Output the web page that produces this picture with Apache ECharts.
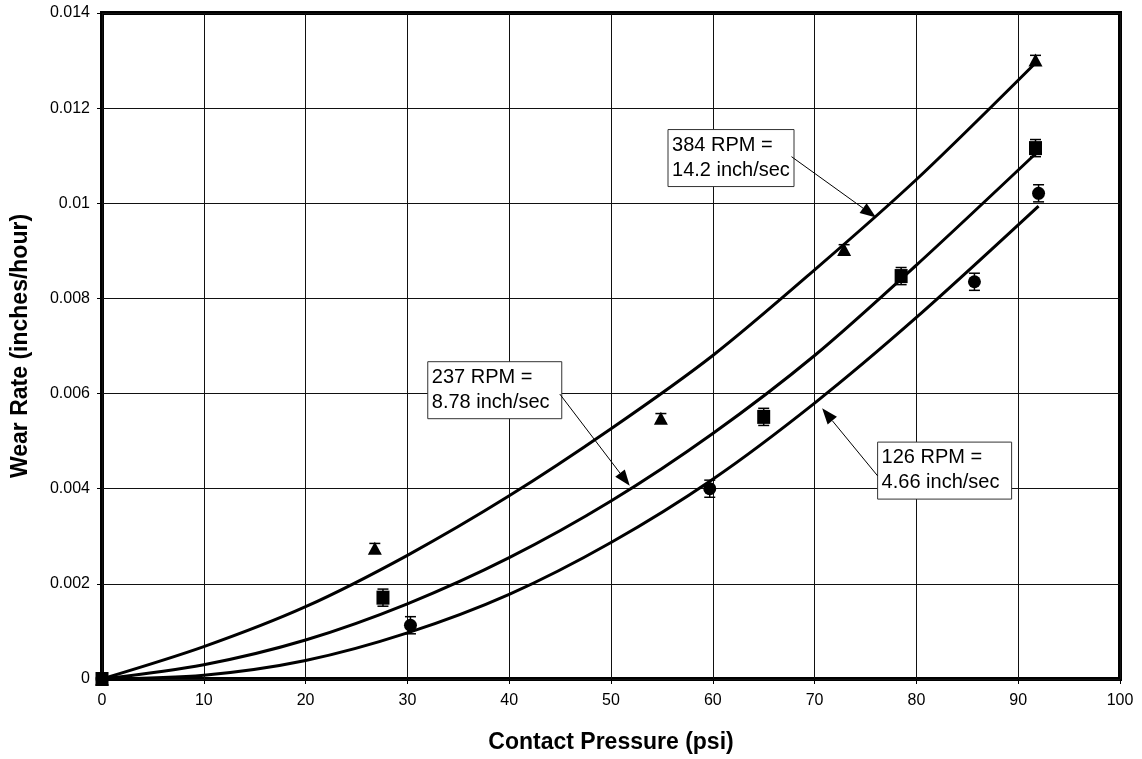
<!DOCTYPE html>
<html>
<head>
<meta charset="utf-8">
<script src="https://cdn.jsdelivr.net/npm/echarts@6/dist/echarts.min.js"></script>
<style>
html,body{margin:0;padding:0;background:#fff;}
#chart{width:1142px;height:759px;}
</style>
</head>
<body>
<div id="chart"></div>
<script>
// ---- data ----
const xTicks = [0, 10, 20, 30, 40, 50, 60, 70, 80, 90, 100];
const yTicks = [0, 0.002, 0.004, 0.006, 0.008, 0.01, 0.012, 0.014];

const rpm384X = [0, 26.8, 54.9, 72.9, 91.7];
const rpm384Y = [0, 0.00275, 0.00548, 0.00903, 0.01301];
const rpm384Err = [0, 0.0001, 0.0001, 0.0001, 0.0001];

const rpm237X = [0, 27.6, 65.0, 78.5, 91.7];
const rpm237Y = [0, 0.00171, 0.00551, 0.00847, 0.01116];
const rpm237Err = [0, 0.00018, 0.00018, 0.00018, 0.00018];

const rpm126X = [0, 30.3, 59.7, 85.7, 92.0];
const rpm126Y = [0, 0.00113, 0.0040, 0.00835, 0.01021];
const rpm126Err = [0, 0.00018, 0.00018, 0.00018, 0.00018];

// trend curves
const fit384X = [0, 10, 20, 30, 40, 50, 60, 70, 80, 91.7];
const fit384Y = [0, 0.00068, 0.00152, 0.0026, 0.00385, 0.00526, 0.0068, 0.0086, 0.0105, 0.01295];
const fit237X = [0, 10, 20, 30, 40, 50, 60, 70, 80, 91.6];
const fit237Y = [0, 0.0003, 0.00082, 0.00158, 0.00255, 0.00374, 0.00516, 0.0068, 0.0087, 0.01102];
const fit126X = [0, 10, 20, 30, 40, 50, 60, 70, 80, 92];
const fit126Y = [0, 0.00008, 0.00039, 0.00097, 0.00178, 0.00287, 0.0042, 0.0058, 0.0076, 0.00994];

const annoLabels = ['384 RPM =\n14.2 inch/sec', '237 RPM =\n8.78 inch/sec', '126 RPM =\n4.66 inch/sec'];

// ---- build ----
const zip = (xs, ys) => xs.map((x, i) => [x, ys[i]]);
const zip3 = (xs, ys, es) => xs.map((x, i) => [x, ys[i], es[i]]);

const FONT = '"Liberation Sans", Arial, sans-serif';

function errRender(params, api) {
  const x = api.value(0), y = api.value(1), e = api.value(2);
  if (!e) return null;
  const lo = api.coord([x, y - e]);
  const hi = api.coord([x, y + e]);
  const hw = 5.5;
  const st = { stroke: '#000', lineWidth: 1.5 };
  return {
    type: 'group',
    children: [
      { type: 'line', shape: { x1: lo[0], y1: lo[1], x2: hi[0], y2: hi[1] }, style: st },
      { type: 'line', shape: { x1: lo[0] - hw, y1: lo[1], x2: lo[0] + hw, y2: lo[1] }, style: st },
      { type: 'line', shape: { x1: hi[0] - hw, y1: hi[1], x2: hi[0] + hw, y2: hi[1] }, style: st }
    ]
  };
}

function curve(name, xs, ys) {
  return {
    name, type: 'line', data: zip(xs, ys), smooth: 0.3, showSymbol: false,
    lineStyle: { color: '#000', width: 3 }, z: 3, silent: true, clip: false
  };
}
function errSeries(xs, ys, es) {
  return { type: 'custom', renderItem: errRender, data: zip3(xs, ys, es), z: 4, silent: true, clip: false,
    encode: { x: 0, y: 1 } };
}
function pts(name, xs, ys, symbol, size) {
  return { name, type: 'scatter', data: zip(xs, ys), symbol, symbolSize: size,
    itemStyle: { color: '#000', opacity: 1 }, z: 5, silent: true, clip: false };
}

const chart = echarts.init(document.getElementById('chart'), null, { renderer: 'canvas' });

const option = {
  animation: false,
  backgroundColor: '#fff',
  grid: { left: 102, right: 22, top: 13, bottom: 78, show: true, borderColor: '#000', borderWidth: 4, backgroundColor: 'transparent' },
  xAxis: {
    type: 'value', min: xTicks[0], max: xTicks[xTicks.length - 1], interval: xTicks[1] - xTicks[0],
    name: 'Contact Pressure (psi)', nameLocation: 'middle', nameGap: 52,
    nameTextStyle: { fontFamily: FONT, fontWeight: 'bold', fontSize: 23, color: '#000' },
    axisLine: { show: false },
    axisTick: { show: true, length: 5, lineStyle: { color: '#000', width: 1 } },
    axisLabel: { fontFamily: FONT, fontSize: 16, color: '#000', margin: 14 },
    splitLine: { show: true, lineStyle: { color: '#111', width: 1 } }
  },
  yAxis: {
    type: 'value', min: yTicks[0], max: yTicks[yTicks.length - 1], interval: yTicks[1] - yTicks[0],
    name: 'Wear Rate (inches/hour)', nameLocation: 'middle', nameGap: 70,
    nameTextStyle: { fontFamily: FONT, fontWeight: 'bold', fontSize: 23, color: '#000' },
    axisLine: { show: false },
    axisTick: { show: true, length: 5, lineStyle: { color: '#000', width: 1 } },
    axisLabel: { fontFamily: FONT, fontSize: 16, color: '#000', margin: 12,
      formatter: v => (v === 0 ? '0' : String(+v.toFixed(3))) },
    splitLine: { show: true, lineStyle: { color: '#111', width: 1 } }
  },
  series: [
    curve('384 fit', fit384X, fit384Y),
    curve('237 fit', fit237X, fit237Y),
    curve('126 fit', fit126X, fit126Y),
    errSeries(rpm384X, rpm384Y, rpm384Err),
    errSeries(rpm237X, rpm237Y, rpm237Err),
    errSeries(rpm126X, rpm126Y, rpm126Err),
    pts('384 RPM', rpm384X, rpm384Y, 'triangle', [14, 13]),
    pts('237 RPM', rpm237X, rpm237Y, 'rect', [13, 14]),
    pts('126 RPM', rpm126X, rpm126Y, 'circle', 13)
  ]
};
chart.setOption(option);

// ---- annotations (boxes + arrows), anchored in data space ----
const annoLayout = [
  { box: [55.6, 0.01155], from: [67.73, 0.01098], tip: [76.04, 0.0097] },
  { box: [32.0, 0.00667], from: [44.97, 0.00599], tip: [51.84, 0.00406] },
  { box: [76.19, 0.00498], from: [76.19, 0.00427], tip: [70.74, 0.00569] }
];
const px = p => chart.convertToPixel({ gridIndex: 0 }, p);
const graphics = [];
annoLayout.forEach((a, i) => {
  const b = px(a.box), f = px(a.from), t = px(a.tip);
  const w = i === 0 ? 126 : 134, h = 57;
  graphics.push({ type: 'rect', shape: { x: b[0], y: b[1], width: w, height: h },
    style: { fill: '#fff', stroke: '#333', lineWidth: 1 }, z: 10 });
  graphics.push({ type: 'text', x: b[0] + 4, y: b[1] + 3, z: 11,
    style: { text: annoLabels[i], font: '20px ' + FONT, fill: '#000', lineHeight: 25, textVerticalAlign: 'top' } });
  const dx = t[0] - f[0], dy = t[1] - f[1], L = Math.hypot(dx, dy);
  const ux = dx / L, uy = dy / L, len = 16, hw = 6;
  const bx = t[0] - ux * len, by = t[1] - uy * len;
  graphics.push({ type: 'line', shape: { x1: f[0], y1: f[1], x2: bx, y2: by },
    style: { stroke: '#000', lineWidth: 1 }, z: 10 });
  graphics.push({ type: 'polygon', shape: { points: [[t[0], t[1]], [bx - uy * hw, by + ux * hw], [bx + uy * hw, by - ux * hw]] },
    style: { fill: '#000' }, z: 10 });
});
chart.setOption({ graphic: graphics });
</script>
</body>
</html>
